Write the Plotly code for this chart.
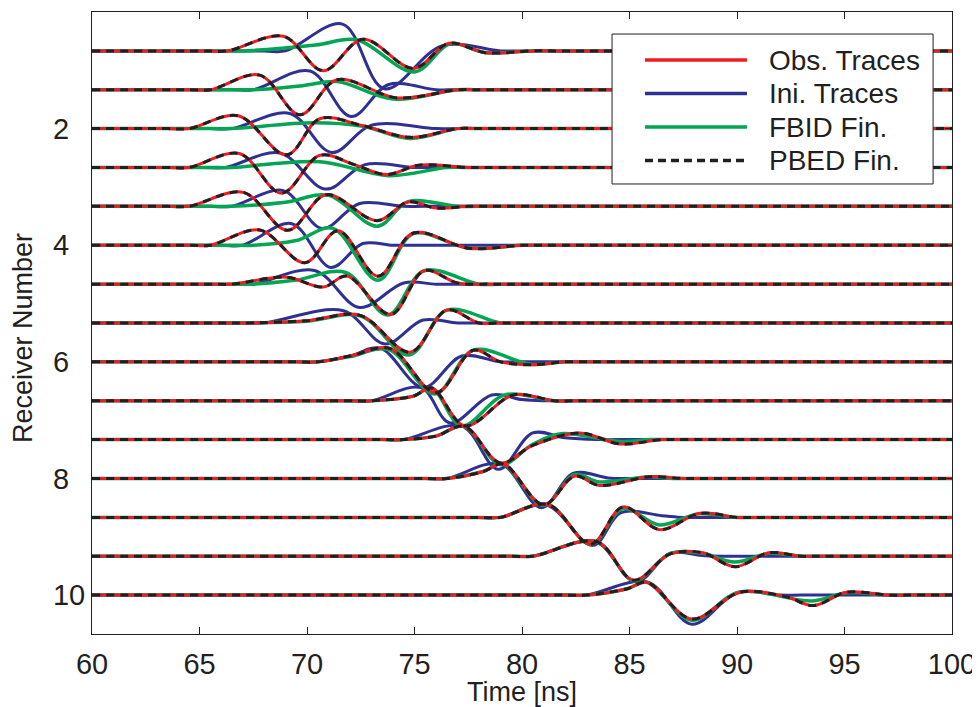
import plotly.graph_objects as go

# Receiver positions (trace baselines) on the "Receiver Number" axis
receiver_pos = [0.667, 1.333, 2.0, 2.667, 3.333, 4.0, 4.667, 5.333,
                6.0, 6.667, 7.333, 8.0, 8.667, 9.333, 10.0]

# Key points of each trace (time in ns, deflection in receiver units, + is up)
obs_t = [
    [66.3, 68.9, 70.75, 72.6, 74.95, 76.6, 78.3, 80.5],
    [65.5, 67.8, 69.67, 71.4, 74.2, 77.0],
    [64.5, 66.8, 69.05, 70.6, 72.6, 74.8, 77.0],
    [64.5, 66.85, 68.82, 70.6, 72.2, 73.7, 75.2, 77.5],
    [64.5, 67.04, 69.1, 70.9, 73.27, 74.7, 76.0, 77.5],
    [65.5, 67.8, 69.9, 71.45, 73.3, 74.95, 77.5, 80.0],
    [66.5, 69.05, 70.76, 71.85, 73.9, 75.45, 77.0, 78.5],
    [67.0, 70.0, 72.47, 74.8, 76.5, 78.0, 79.0],
    [70.5, 72.0, 73.86, 76.0, 77.74, 79.0, 80.4, 82.0],
    [73.0, 74.95, 75.8, 77.35, 79.6, 81.5],
    [74.5, 76.0, 77.3, 79.0, 80.5, 82.7, 84.56, 86.5],
    [76.5, 78.2, 79.13, 81.0, 82.45, 83.6, 85.95, 87.5],
    [79.0, 81.2, 83.2, 84.7, 86.4, 88.28, 90.0],
    [80.5, 83.47, 85.19, 86.9, 88.4, 89.9, 91.5, 93.0],
    [83.0, 84.9, 85.8, 87.9, 90.14, 92.3, 93.55, 95.1, 97.0],
]
obs_a = [
    [0, 0.25, -0.34, 0.20, -0.30, 0.13, -0.03, 0],
    [0, 0.25, -0.43, 0.17, -0.14, 0],
    [0, 0.22, -0.45, 0.17, 0.05, -0.15, 0],
    [0, 0.24, -0.44, 0.21, 0.05, -0.12, 0.04, 0],
    [0, 0.24, -0.41, 0.20, -0.245, 0.075, -0.03, 0],
    [0, 0.26, -0.30, 0.25, -0.53, 0.21, -0.05, 0],
    [0, 0.12, -0.05, 0.14, -0.52, 0.23, 0.02, 0],
    [0, 0.04, 0.13, -0.50, 0.22, 0.0, 0],
    [0, 0.10, 0.23, -0.53, 0.20, 0.0, -0.05, 0],
    [0, 0.08, 0.22, -0.43, 0.10, 0],
    [0, 0.06, 0.23, -0.40, -0.10, 0.115, -0.075, 0],
    [0, 0.12, 0.25, -0.45, 0.04, -0.12, 0.03, 0],
    [0, 0.22, -0.46, 0.18, -0.21, 0.07, 0],
    [0, 0.25, -0.41, 0.04, 0.06, -0.18, 0.06, 0],
    [0, 0.11, 0.22, -0.41, 0.05, -0.03, -0.18, 0.05, 0],
]

ini_t = [
    [69.0, 71.65, 73.6, 76.3, 79.0],
    [67.5, 70.14, 72.05, 73.8, 76.0],
    [66.5, 69.2, 71.15, 73.0, 76.0],
    [66.2, 68.74, 70.87, 72.7, 75.0],
    [66.5, 68.9, 70.7, 72.45, 74.5],
    [67.0, 69.29, 71.1, 72.6, 74.0],
    [67.5, 70.35, 72.45, 74.5, 76.0],
    [68.0, 71.69, 73.63, 75.4, 77.0],
    [70.5, 72.0, 73.4, 75.4, 77.2, 79.0],
    [73.0, 75.3, 76.65, 78.6, 80.0, 81.0],
    [74.5, 77.2, 78.9, 80.5, 82.0, 83.5],
    [76.5, 79.0, 80.9, 82.4, 84.0, 85.0],
    [79.0, 81.1, 83.3, 84.6, 86.5, 87.5],
    [80.5, 83.4, 85.3, 86.9, 88.5, 90.0],
    [83.0, 85.85, 87.9, 90.0, 92.0],
]
ini_a = [
    [0, 0.46, -0.65, 0.09, 0],
    [0, 0.32, -0.46, 0.09, 0],
    [0, 0.26, -0.41, 0.06, 0],
    [0, 0.25, -0.37, 0.05, 0],
    [0, 0.27, -0.38, 0.05, 0],
    [0, 0.37, -0.38, 0.03, 0],
    [0, 0.235, -0.40, 0.02, 0],
    [0, 0.21, -0.36, 0.05, 0],
    [0, 0.10, 0.235, -0.44, 0.10, 0],
    [0, 0.225, -0.38, 0.10, 0.02, 0],
    [0, 0.23, -0.51, 0.115, 0.03, 0],
    [0, 0.25, -0.50, 0.09, 0.01, 0],
    [0, 0.22, -0.48, 0.08, 0.03, 0],
    [0, 0.25, -0.44, 0.05, 0.01, 0],
    [0, 0.22, -0.50, 0.04, 0],
]

fbid_t = [
    [67.0, 70.4, 72.3, 75.0, 76.65, 78.3, 80.5],
    [67.5, 69.8, 71.4, 74.0, 77.0],
    [66.5, 70.3, 72.6, 74.8, 77.0],
    [66.5, 70.6, 73.8, 76.5],
    [66.5, 69.0, 71.0, 73.27, 74.7, 77.0],
    [67.5, 69.5, 71.2, 73.3, 74.95, 77.5, 80.0],
    [67.5, 69.5, 71.8, 73.75, 75.45, 78.0],
    [67.0, 70.0, 72.5, 74.75, 76.5, 79.0],
    [70.5, 72.0, 73.8, 75.95, 77.74, 80.4, 82.0],
    [73.0, 74.95, 75.8, 77.2, 79.2, 81.5],
    [74.5, 76.0, 77.3, 79.0, 80.5, 81.8, 84.5, 86.0],
    [76.5, 78.2, 79.1, 81.0, 82.45, 83.6, 85.9, 87.0],
    [79.0, 81.2, 83.2, 84.7, 86.4, 88.2, 90.0],
    [80.5, 83.47, 85.2, 86.9, 88.4, 89.9, 91.5, 93.0],
    [83.0, 84.9, 85.8, 87.9, 90.1, 93.5, 95.1, 97.0],
]
fbid_a = [
    [0, 0.10, 0.19, -0.36, 0.12, -0.03, 0],
    [0, 0.07, 0.14, -0.16, 0],
    [0, 0.10, 0.04, -0.17, 0],
    [0, 0.10, -0.14, 0],
    [0, 0.07, 0.19, -0.34, 0.08, 0],
    [0, 0.08, 0.29, -0.60, 0.20, -0.05, 0],
    [0, 0.07, 0.20, -0.53, 0.23, 0],
    [0, 0.03, 0.12, -0.55, 0.22, 0],
    [0, 0.09, 0.21, -0.55, 0.20, -0.04, 0],
    [0, 0.08, 0.22, -0.43, 0.10, 0],
    [0, 0.06, 0.23, -0.43, -0.08, 0.10, -0.03, 0],
    [0, 0.12, 0.25, -0.46, 0.07, -0.06, 0.03, 0],
    [0, 0.22, -0.46, 0.15, -0.13, 0.06, 0],
    [0, 0.25, -0.42, 0.05, 0.05, -0.10, 0.05, 0],
    [0, 0.11, 0.22, -0.43, 0.05, -0.10, 0.04, 0],
]

time_ticks = [60, 65, 70, 75, 80, 85, 90, 95, 100]
receiver_ticks = [2, 4, 6, 8, 10]
# single-digit labels sit left-aligned in the original, pad them
receiver_ticktext = ["2\u00a0\u00a0", "4\u00a0\u00a0", "6\u00a0\u00a0", "8\u00a0\u00a0", "10"]

series_names = ["Obs. Traces", "Ini. Traces", "FBID Fin.", "PBED Fin."]

# Define Colors
red = "#ED1C24"
blue = "#2E3192"
green = "#00A651"
black = "#231F20"
FONT = "Liberation Sans, Arial, sans-serif"


def trace_xy(base, t, a):
    # flat baseline over the full window, wavelet in between
    x = [60, t[0] - 1] + list(t) + [t[-1] + 1, 100]
    y = [base, base] + [base - v for v in a] + [base, base]
    return x, y


def wiggle(x, y, color, width, dash="solid"):
    return go.Scatter(
        x=x,
        y=y,
        mode="lines",
        line=dict(color=color, width=width, dash=dash, shape="spline", smoothing=1),
        showlegend=False,
        hoverinfo="skip",
    )


fig = go.Figure()

# draw order: initial, FBID, observed, PBED on top
for base, t, a in zip(receiver_pos, ini_t, ini_a):
    fig.add_trace(wiggle(*trace_xy(base, t, a), blue, 3))
for base, t, a in zip(receiver_pos, fbid_t, fbid_a):
    fig.add_trace(wiggle(*trace_xy(base, t, a), green, 3.5))
for base, t, a in zip(receiver_pos, obs_t, obs_a):
    fig.add_trace(wiggle(*trace_xy(base, t, a), red, 3))
for base, t, a in zip(receiver_pos, obs_t, obs_a):
    fig.add_trace(wiggle(*trace_xy(base, t, a), black, 3, "8px,6px"))

# legend box drawn by hand so the line samples are long like the original
fig.add_shape(type="rect", xref="paper", yref="paper",
              x0=0.6047, x1=0.978, y0=0.7235, y1=0.9646,
              line=dict(color=black, width=1), fillcolor="white", layer="above")
legend_rows = [0.9228, 0.869, 0.8151, 0.7613]
legend_styles = [(red, "solid"), (blue, "solid"), (green, "solid"), (black, "8px,5px")]
for yy, (col, dash), name in zip(legend_rows, legend_styles, series_names):
    fig.add_shape(type="line", xref="paper", yref="paper",
                  x0=0.643, x1=0.7616, y0=yy, y1=yy,
                  line=dict(color=col, width=3.5, dash=dash), layer="above")
    fig.add_annotation(x=0.7849, y=yy, xref="paper", yref="paper",
                       text=name, showarrow=False, xanchor="left", yanchor="middle",
                       font=dict(family=FONT, size=28, color=black))

# y label placed like the original (a bit below the axis centre)
fig.add_annotation(x=-0.0802, y=0.476, xref="paper", yref="paper",
                   text="Receiver Number", textangle=-90, showarrow=False,
                   xanchor="center", yanchor="middle",
                   font=dict(family=FONT, size=27, color=black))

# page body has an 8px margin, so the figure is 8px smaller than the window
fig.update_layout(
    width=972,
    height=699,
    margin=dict(l=84, r=28, t=4, b=73),
    plot_bgcolor="white",
    paper_bgcolor="white",
    showlegend=False,
    font=dict(family=FONT, size=28, color=black),
)

fig.update_xaxes(
    range=[60, 100],
    tickvals=time_ticks,
    ticks="inside",
    ticklen=7,
    tickcolor=black,
    showline=True,
    linecolor=black,
    linewidth=1,
    mirror="ticks",
    showgrid=False,
    zeroline=False,
    automargin=False,
    ticklabelstandoff=4,
    tickfont=dict(family=FONT, size=29, color=black),
    title=dict(text="Time [ns]", font=dict(family=FONT, size=27, color=black), standoff=2),
)
fig.update_yaxes(
    range=[10.667, 0],
    tickvals=receiver_ticks,
    ticktext=receiver_ticktext,
    ticks="inside",
    ticklen=7,
    tickcolor=black,
    showline=True,
    linecolor=black,
    linewidth=1,
    mirror="ticks",
    showgrid=False,
    zeroline=False,
    automargin=False,
    tickfont=dict(family=FONT, size=29, color=black),
)

fig.write_html("out.html")
